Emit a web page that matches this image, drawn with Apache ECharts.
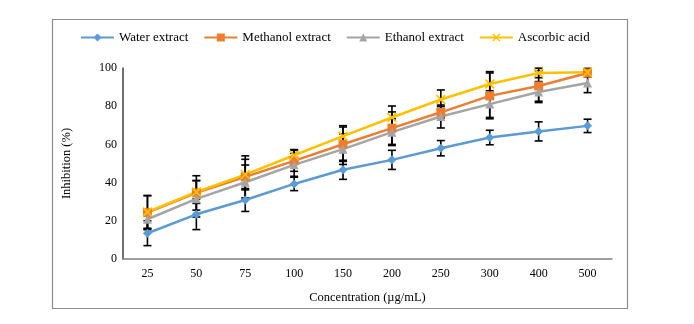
<!DOCTYPE html>
<html><head><meta charset="utf-8">
<script src="https://cdn.jsdelivr.net/npm/echarts@6/dist/echarts.min.js"></script>
<style>html,body{margin:0;padding:0;background:#fff}#c{width:694px;height:324px}</style>
</head><body><div id="c"></div>
<script>
const categories = ['25','50','75','100','150','200','250','300','400','500'];
const water    = [13.5, 23.4, 30.9, 39.3, 46.7, 51.9, 58.0, 63.6, 66.8, 69.7];
const waterErr = [6.5, 8, 6, 3.5, 5, 5, 4, 3.8, 5, 3.5];
const methanol    = [24.3, 34.6, 43.0, 51.4, 60.1, 68.5, 76.8, 85.4, 90.6, 97.4];
const methanolErr = [9, 9, 11, 5.5, 9, 8.5, 3, 12, 8, 2];
const ethanol    = [20.8, 31.5, 40.2, 49.3, 57.5, 66.4, 74.6, 81.1, 87.4, 92.1];
const ethanolErr = [5, 9.5, 9, 6, 8, 7, 6, 7, 5.5, 5];
const ascorbic    = [24.6, 35.1, 44.2, 54.3, 64.3, 74.1, 83.5, 91.6, 97.4, 97.8];
const ascorbicErr = [8.5, 6, 8, 3, 5.5, 6, 5, 6.5, 2.5, 2];
const yTicks = [0, 20, 40, 60, 80, 100];

const font = 'Liberation Serif';
function errData(vals, errs){ return vals.map((v,i)=>[i, v-errs[i], v+errs[i]]); }
function errSeries(vals, errs){
  return {
    type:'custom', silent:true, z:3,
    data: errData(vals, errs),
    renderItem: function(params, api){
      const x = api.value(0);
      const lo = api.coord([x, api.value(1)]);
      const hi = api.coord([x, api.value(2)]);
      const w = 4;
      const st = {stroke:'#000', lineWidth:1.6};
      return {type:'group', children:[
        {type:'line', shape:{x1:lo[0],y1:lo[1],x2:hi[0],y2:hi[1]}, style:st},
        {type:'line', shape:{x1:hi[0]-w,y1:hi[1],x2:hi[0]+w,y2:hi[1]}, style:st},
        {type:'line', shape:{x1:lo[0]-w,y1:lo[1],x2:lo[0]+w,y2:lo[1]}, style:st}
      ]};
    }
  };
}
const xSym = 'path://M0,1.2L1.2,0L5,3.8L8.8,0L10,1.2L6.2,5L10,8.8L8.8,10L5,6.2L1.2,10L0,8.8L3.8,5Z';
function lineSeries(name, vals, color, symbol, size){
  return {name, type:'line', data: vals, z:4, symbol, symbolSize:size,
    lineStyle:{color, width:2.5}, itemStyle:{color}};
}
const chart = echarts.init(document.getElementById('c'));
chart.setOption({
  animation:false,
  graphic:[{type:'rect', shape:{x:52.5,y:19.5,width:575,height:289}, style:{fill:'none', stroke:'#8c8c8c', lineWidth:1.2}, z:-1}],
  legend:{
    data:['Water extract','Methanol extract','Ethanol extract','Ascorbic acid'],
    top:26, left:75, itemWidth:33, itemHeight:10, itemGap:15,
    textStyle:{fontFamily:font, fontSize:13, color:'#000'}
  },
  grid:{left:123, right:82, top:68, bottom:65},
  xAxis:{
    type:'category', data:categories, boundaryGap:true,
    axisLine:{lineStyle:{color:'#808080', width:1.5}},
    axisTick:{show:false},
    axisLabel:{fontFamily:font, fontSize:12, color:'#000', margin:9},
    name:'Concentration (µg/mL)', nameLocation:'middle', nameGap:32,
    nameTextStyle:{fontFamily:font, fontSize:12.5, color:'#000'}
  },
  yAxis:{
    type:'value', min:0, max:100, interval:20,
    axisLine:{show:true, lineStyle:{color:'#404040', width:1.5}},
    axisTick:{show:false}, splitLine:{show:false},
    axisLabel:{fontFamily:font, fontSize:12, color:'#000', margin:6,
      formatter: v => yTicks.includes(v) ? String(v) : ''},
    name:'Inhibition (%)', nameLocation:'middle', nameGap:50,
    nameTextStyle:{fontFamily:font, fontSize:12.5, color:'#000'}
  },
  series:[
    lineSeries('Water extract', water, '#5B9BD5', 'diamond', 9),
    lineSeries('Methanol extract', methanol, '#ED7D31', 'rect', 9),
    lineSeries('Ethanol extract', ethanol, '#A5A5A5', 'triangle', 9),
    lineSeries('Ascorbic acid', ascorbic, '#FFC000', xSym, 10),
    errSeries(water, waterErr),
    errSeries(methanol, methanolErr),
    errSeries(ethanol, ethanolErr),
    errSeries(ascorbic, ascorbicErr)
  ]
});
</script></body></html>
